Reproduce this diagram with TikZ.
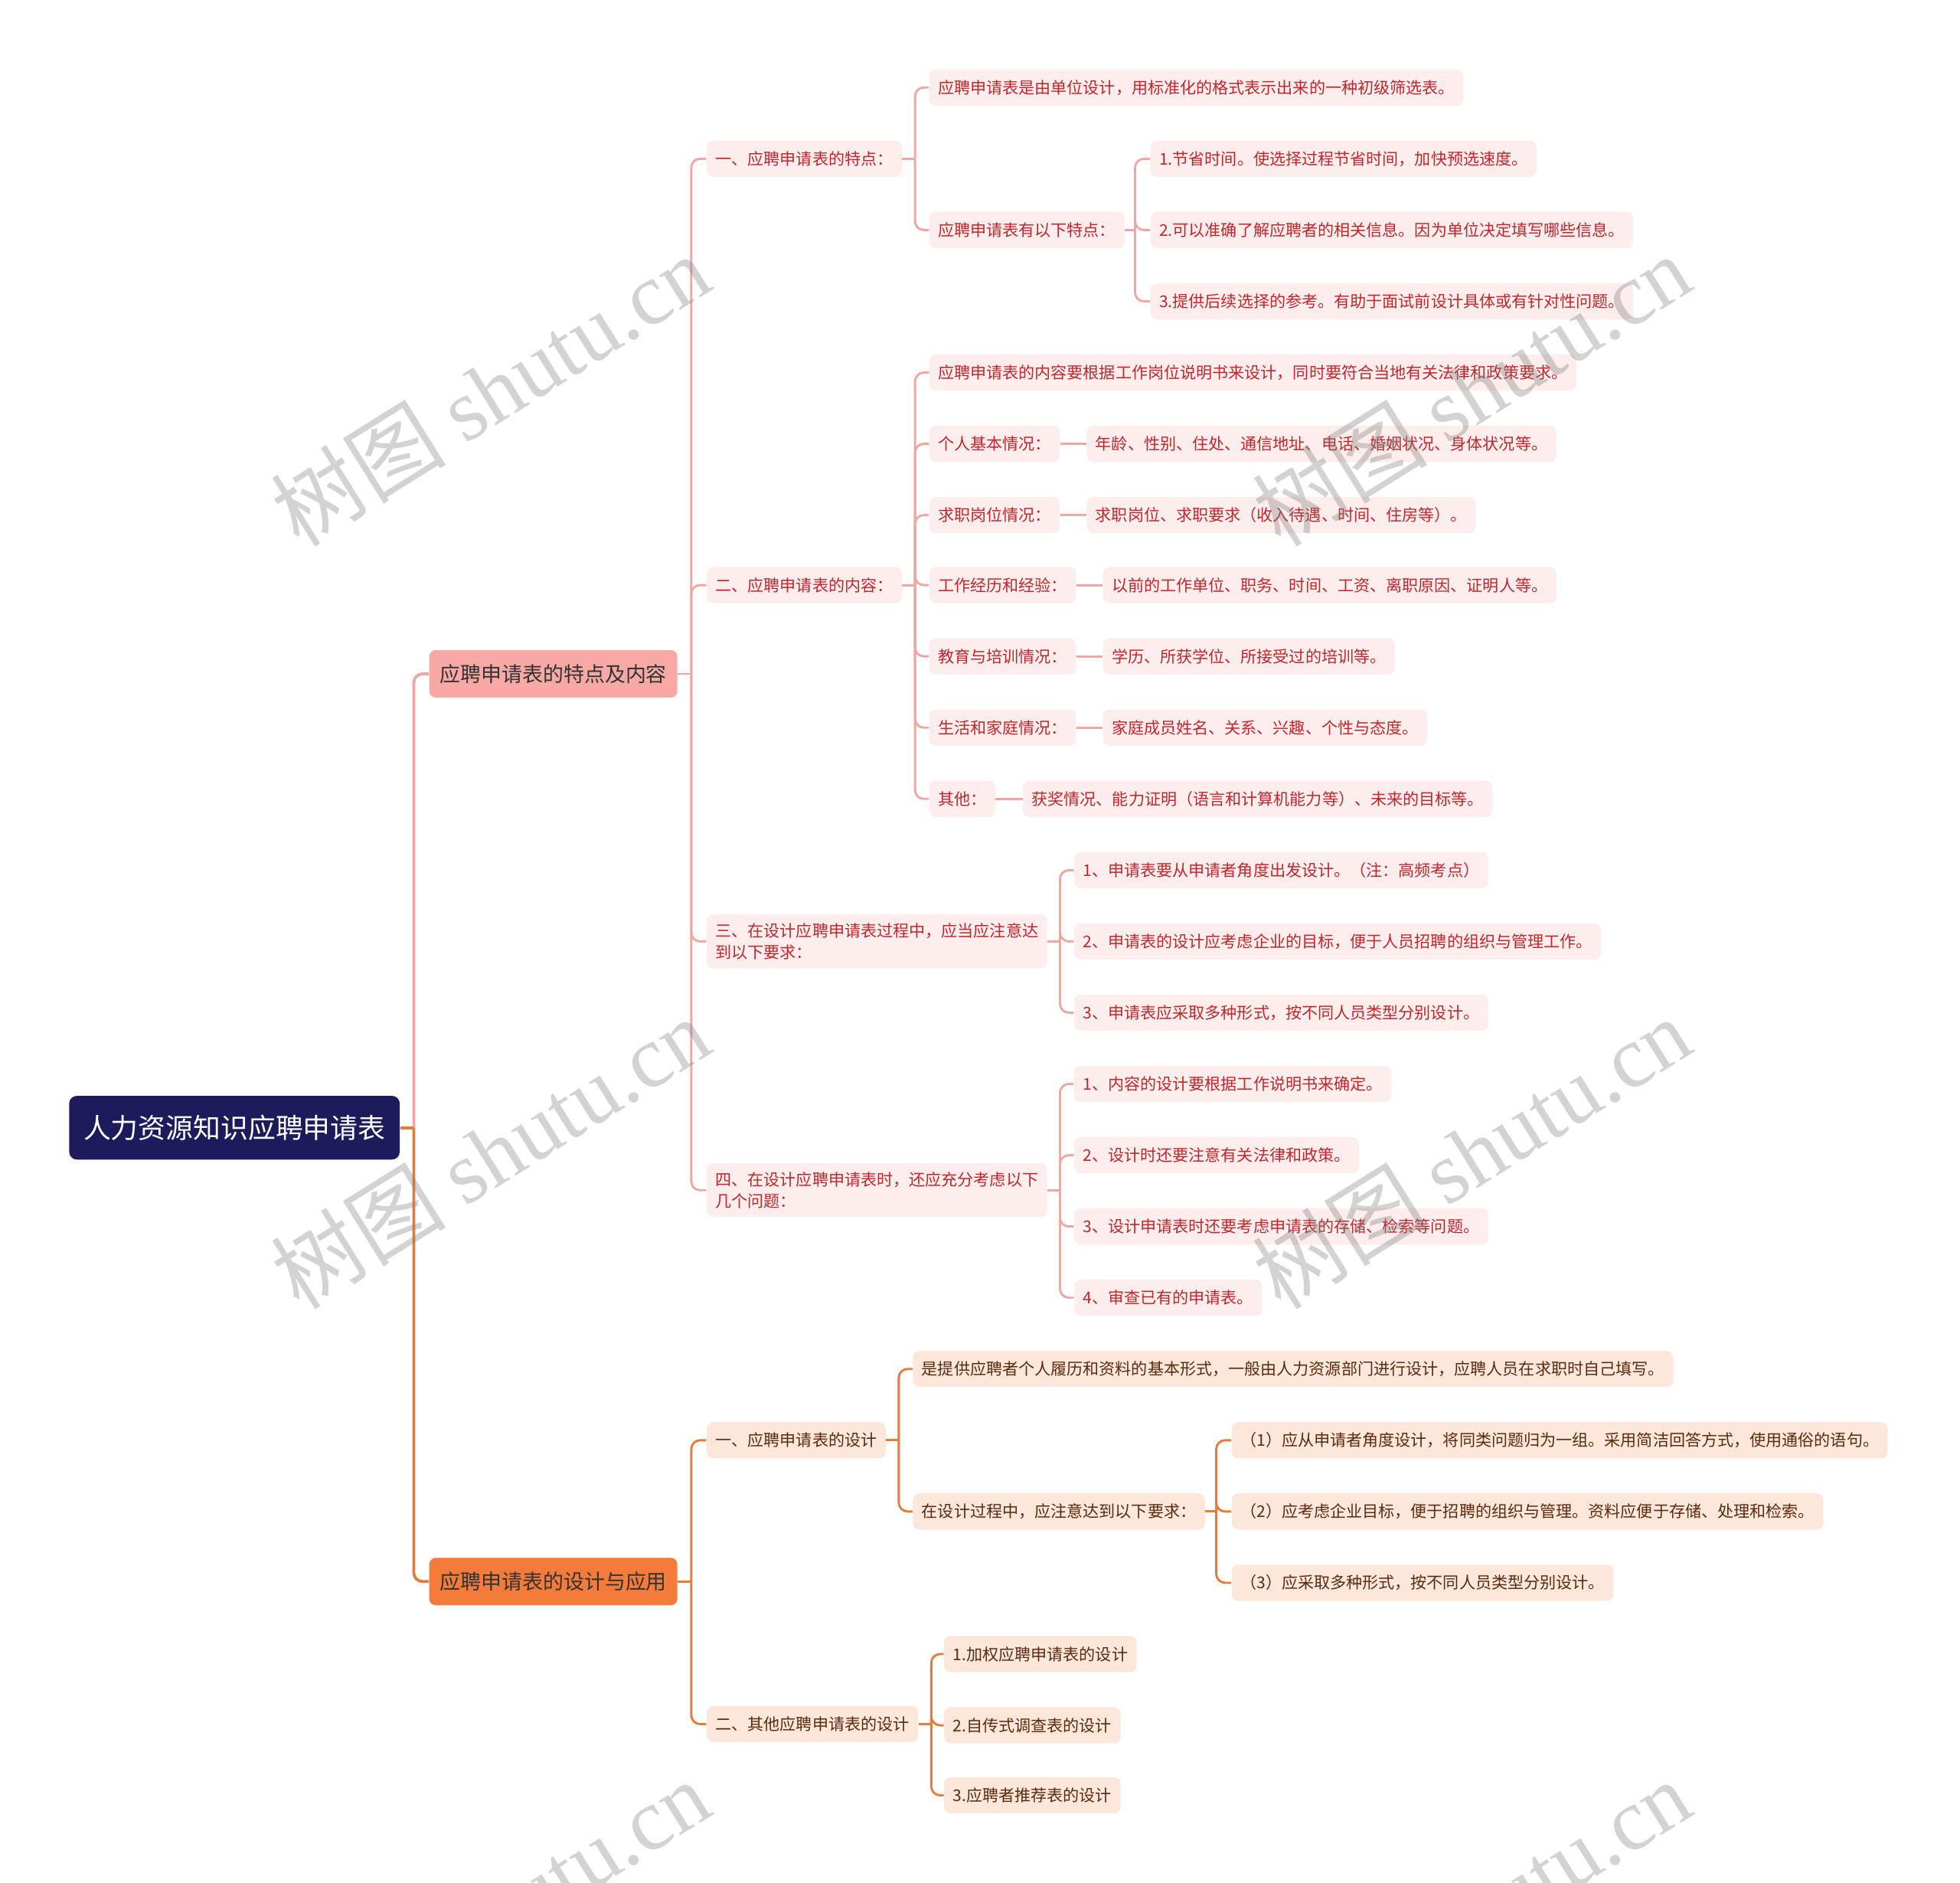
\documentclass[tikz,border=0pt]{standalone}
\usepackage{fontspec}
\setmainfont{Noto Sans CJK SC}
\newfontfamily\wmlatin{Liberation Serif}
\usepackage{tikz}

\definecolor{rootblue}{HTML}{1E1B5C}
\definecolor{pinkmain}{HTML}{F8A9A5}
\definecolor{pinkline}{HTML}{F0A7A3}
\definecolor{pinkbox}{HTML}{FDEDED}
\definecolor{pinktext}{HTML}{C0272D}
\definecolor{orangemain}{HTML}{F47B3A}
\definecolor{orangeline}{HTML}{E67C3A}
\definecolor{peachbox}{HTML}{FDE6DA}
\definecolor{browntext}{HTML}{5A2B10}

\begin{document}
\begin{tikzpicture}[
    x=0.02cm, y=-0.02cm,
    rootnode/.style={rectangle, rounded corners=3.5pt, fill=rootblue, text=white, font=\fontsize{12.5}{15}\selectfont, inner xsep=6.5pt, minimum height=29pt, anchor=west},
    topicA/.style={rectangle, rounded corners=3pt, fill=pinkmain, text=black!80, font=\fontsize{9.4}{11}\selectfont, inner xsep=4.8pt, minimum height=21.6pt, anchor=west},
    topicB/.style={topicA, fill=orangemain},
    itemA/.style={rectangle, rounded corners=3pt, fill=pinkbox, text=pinktext, font=\fontsize{7.35}{9.7}\selectfont, inner xsep=4pt, inner ysep=4pt, minimum height=16.5pt, align=left, anchor=west},
    itemB/.style={itemA, fill=peachbox, text=browntext},
    mainA/.style={draw=pinkline, line width=1.3pt, rounded corners=4pt},
    mainB/.style={draw=orangeline, line width=1.3pt, rounded corners=4pt},
    lineA/.style={draw=pinkline, line width=1pt, rounded corners=4pt},
    lineB/.style={draw=orangeline, line width=1pt, rounded corners=4pt},
    wmark/.style={font=\fontsize{40}{40}\selectfont, text=gray, text opacity=0.35, rotate=32},
]
\useasboundingbox (0,0) rectangle (1568,1506);

% === Root ===
\node[rootnode] (root) at (55, 902) {人力资源知识应聘申请表};

% === Main topics ===
\node[topicA] (fea) at (343, 539) {应聘申请表的特点及内容};
\node[topicB] (des) at (343, 1265) {应聘申请表的设计与应用};

\coordinate (root-bus) at (331, 902);
\draw[mainA] (root-bus) |- (fea.west);
\draw[mainB] (root-bus) |- (des.west);
\draw[mainB] (root.east) -- (root-bus);

% === Features and content ===
\node[itemA] (f1) at (565, 127) {一、应聘申请表的特点：};
\node[itemA] (f2) at (565, 468) {二、应聘申请表的内容：};
\node[itemA] (f3) at (565, 753) {三、在设计应聘申请表过程中，应当应注意达\\到以下要求：};
\node[itemA] (f4) at (565, 952) {四、在设计应聘申请表时，还应充分考虑以下\\几个问题：};

\coordinate (fea-bus) at (553, 539);
\draw[lineA] (fea.east) -- (fea-bus);
\draw[lineA] (fea-bus) |- (f1.west);
\draw[lineA] (fea-bus) |- (f2.west);
\draw[lineA] (fea-bus) |- (f3.west);
\draw[lineA] (fea-bus) |- (f4.west);

% === 一: features ===
\node[itemA] (f1def) at (743, 70) {应聘申请表是由单位设计，用标准化的格式表示出来的一种初级筛选表。};
\node[itemA] (f1list) at (743, 184) {应聘申请表有以下特点：};
\coordinate (f1-bus) at (732, 127);
\draw[lineA] (f1.east) -- (f1-bus);
\draw[lineA] (f1-bus) |- (f1def.west);
\draw[lineA] (f1-bus) |- (f1list.west);

\node[itemA] (f1p1) at (920, 127) {1.节省时间。使选择过程节省时间，加快预选速度。};
\node[itemA] (f1p2) at (920, 184) {2.可以准确了解应聘者的相关信息。因为单位决定填写哪些信息。};
\node[itemA] (f1p3) at (920, 241) {3.提供后续选择的参考。有助于面试前设计具体或有针对性问题。};
\coordinate (f1list-bus) at (908, 184);
\draw[lineA] (f1list.east) -- (f1list-bus);
\draw[lineA] (f1list-bus) |- (f1p1.west);
\draw[lineA] (f1list-bus) |- (f1p2.west);
\draw[lineA] (f1list-bus) |- (f1p3.west);

% === 二: content ===
\node[itemA] (f2gen) at (743, 298) {应聘申请表的内容要根据工作岗位说明书来设计，同时要符合当地有关法律和政策要求。};
\node[itemA] (f2per) at (743, 355) {个人基本情况：};
\node[itemA] (f2job) at (743, 412) {求职岗位情况：};
\node[itemA] (f2work) at (743, 468) {工作经历和经验：};
\node[itemA] (f2edu) at (743, 525) {教育与培训情况：};
\node[itemA] (f2life) at (743, 582) {生活和家庭情况：};
\node[itemA] (f2oth) at (743, 639) {其他：};
\coordinate (f2-bus) at (732, 468);
\draw[lineA] (f2.east) -- (f2-bus);
\draw[lineA] (f2-bus) |- (f2gen.west);
\draw[lineA] (f2-bus) |- (f2per.west);
\draw[lineA] (f2-bus) |- (f2job.west);
\draw[lineA] (f2-bus) |- (f2work.west);
\draw[lineA] (f2-bus) |- (f2edu.west);
\draw[lineA] (f2-bus) |- (f2life.west);
\draw[lineA] (f2-bus) |- (f2oth.west);

\node[itemA] (f2perd) at (869, 355) {年龄、性别、住处、通信地址、电话、婚姻状况、身体状况等。};
\node[itemA] (f2jobd) at (869, 412) {求职岗位、求职要求（收入待遇、时间、住房等）。};
\node[itemA] (f2workd) at (882, 468) {以前的工作单位、职务、时间、工资、离职原因、证明人等。};
\node[itemA] (f2edud) at (882, 525) {学历、所获学位、所接受过的培训等。};
\node[itemA] (f2lifed) at (882, 582) {家庭成员姓名、关系、兴趣、个性与态度。};
\node[itemA] (f2othd) at (818, 639) {获奖情况、能力证明（语言和计算机能力等）、未来的目标等。};
\draw[lineA] (f2per.east) -- (f2perd.west);
\draw[lineA] (f2job.east) -- (f2jobd.west);
\draw[lineA] (f2work.east) -- (f2workd.west);
\draw[lineA] (f2edu.east) -- (f2edud.west);
\draw[lineA] (f2life.east) -- (f2lifed.west);
\draw[lineA] (f2oth.east) -- (f2othd.west);

% === 三: requirements ===
\node[itemA] (f3r1) at (859, 696) {1、申请表要从申请者角度出发设计。（注：高频考点）};
\node[itemA] (f3r2) at (859, 753) {2、申请表的设计应考虑企业的目标，便于人员招聘的组织与管理工作。};
\node[itemA] (f3r3) at (859, 810) {3、申请表应采取多种形式，按不同人员类型分别设计。};
\coordinate (f3-bus) at (848, 753);
\draw[lineA] (f3.east) -- (f3-bus);
\draw[lineA] (f3-bus) |- (f3r1.west);
\draw[lineA] (f3-bus) |- (f3r2.west);
\draw[lineA] (f3-bus) |- (f3r3.west);

% === 四: questions ===
\node[itemA] (f4q1) at (859, 867) {1、内容的设计要根据工作说明书来确定。};
\node[itemA] (f4q2) at (859, 924) {2、设计时还要注意有关法律和政策。};
\node[itemA] (f4q3) at (859, 981) {3、设计申请表时还要考虑申请表的存储、检索等问题。};
\node[itemA] (f4q4) at (859, 1038) {4、审查已有的申请表。};
\coordinate (f4-bus) at (848, 952);
\draw[lineA] (f4.east) -- (f4-bus);
\draw[lineA] (f4-bus) |- (f4q1.west);
\draw[lineA] (f4-bus) |- (f4q2.west);
\draw[lineA] (f4-bus) |- (f4q3.west);
\draw[lineA] (f4-bus) |- (f4q4.west);

% === Design and use ===
\node[itemB] (d1) at (565, 1152) {一、应聘申请表的设计};
\node[itemB] (d2) at (565, 1379) {二、其他应聘申请表的设计};
\coordinate (des-bus) at (553, 1265);
\draw[lineB] (des.east) -- (des-bus);
\draw[lineB] (des-bus) |- (d1.west);
\draw[lineB] (des-bus) |- (d2.west);

% === 一: design ===
\node[itemB] (d1def) at (730, 1095) {是提供应聘者个人履历和资料的基本形式，一般由人力资源部门进行设计，应聘人员在求职时自己填写。};
\node[itemB] (d1req) at (730, 1209) {在设计过程中，应注意达到以下要求：};
\coordinate (d1-bus) at (719, 1152);
\draw[lineB] (d1.east) -- (d1-bus);
\draw[lineB] (d1-bus) |- (d1def.west);
\draw[lineB] (d1-bus) |- (d1req.west);

\node[itemB] (d1r1) at (985, 1152) {（1）应从申请者角度设计，将同类问题归为一组。采用简洁回答方式，使用通俗的语句。};
\node[itemB] (d1r2) at (985, 1209) {（2）应考虑企业目标，便于招聘的组织与管理。资料应便于存储、处理和检索。};
\node[itemB] (d1r3) at (985, 1266) {（3）应采取多种形式，按不同人员类型分别设计。};
\coordinate (d1req-bus) at (973, 1209);
\draw[lineB] (d1req.east) -- (d1req-bus);
\draw[lineB] (d1req-bus) |- (d1r1.west);
\draw[lineB] (d1req-bus) |- (d1r2.west);
\draw[lineB] (d1req-bus) |- (d1r3.west);

% === 二: other forms ===
\node[itemB] (d2t1) at (755, 1323) {1.加权应聘申请表的设计};
\node[itemB] (d2t2) at (755, 1380) {2.自传式调查表的设计};
\node[itemB] (d2t3) at (755, 1436) {3.应聘者推荐表的设计};
\coordinate (d2-bus) at (745, 1379);
\draw[lineB] (d2.east) -- (d2-bus);
\draw[lineB] (d2-bus) |- (d2t1.west);
\draw[lineB] (d2-bus) |- (d2t2.west);
\draw[lineB] (d2-bus) |- (d2t3.west);

% === Watermarks ===
\begin{scope}
\clip (0,0) rectangle (1568,1506);
\node[wmark] (wm1) at (392, 312) {树图 {\wmlatin shutu.cn}};
\node[wmark] (wm2) at (1177, 312) {树图 {\wmlatin shutu.cn}};
\node[wmark] (wm3) at (392, 922) {树图 {\wmlatin shutu.cn}};
\node[wmark] (wm4) at (1177, 922) {树图 {\wmlatin shutu.cn}};
\node[wmark] (wm5) at (392, 1532) {树图 {\wmlatin shutu.cn}};
\node[wmark] (wm6) at (1177, 1532) {树图 {\wmlatin shutu.cn}};
\end{scope}

\end{tikzpicture}
\end{document}
